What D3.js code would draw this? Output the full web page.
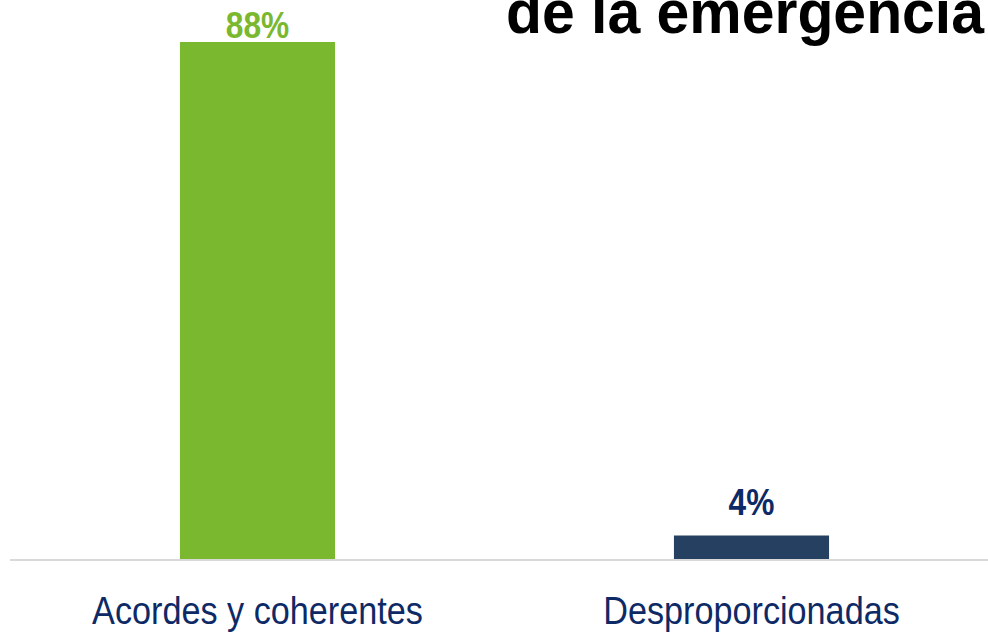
<!DOCTYPE html>
<html>
<head>
<meta charset="utf-8">
<script src="https://cdn.jsdelivr.net/npm/d3@7"></script>
<style>
  body { margin: 0; background: #fff; }
  svg { display: block; }
</style>
</head>
<body>
<div id="chart"></div>
<script>
// Data
const categories = ["Acordes y coherentes", "Desproporcionadas"];
const values = [88, 4];
const barColors = ["#79B82F", "#264062"];
const labelColors = ["#79B82F", "#0E2A66"];
const title = "de la emergencia";

const W = 988, H = 633;
const baseY = 559;

const svg = d3.select("#chart").append("svg")
  .attr("width", W)
  .attr("height", H);

// squeeze a text horizontally to imitate a narrow font
function condense(sel, k) {
  sel.each(function() {
    const w = this.getComputedTextLength();
    d3.select(this)
      .attr("textLength", w * k)
      .attr("lengthAdjust", "spacingAndGlyphs");
  });
}

const x = d3.scaleBand()
  .domain(categories)
  .range([10.5, 998.5])
  .paddingInner(0.686)
  .paddingOuter(0.343);

const y = d3.scaleLinear()
  .domain([0, 88])
  .range([baseY, 42]);

// Bars
svg.selectAll("rect.bar")
  .data(categories)
  .join("rect")
  .attr("class", "bar")
  .attr("x", d => x(d))
  .attr("width", x.bandwidth())
  .attr("y", (d, i) => y(values[i]))
  .attr("height", (d, i) => baseY - y(values[i]))
  .attr("fill", (d, i) => barColors[i]);

// Baseline
svg.append("line")
  .attr("x1", 10).attr("x2", W)
  .attr("y1", baseY + 1).attr("y2", baseY + 1)
  .attr("stroke", "#d9d9d9")
  .attr("stroke-width", 2);

// Value labels
svg.selectAll("text.val")
  .data(categories)
  .join("text")
  .attr("class", "val")
  .attr("x", d => x(d) + x.bandwidth() / 2)
  .attr("y", (d, i) => Math.max(y(values[i]) - 21, 38))
  .attr("text-anchor", "middle")
  .attr("font-family", "'Liberation Sans', Arial, sans-serif")
  .attr("font-weight", "bold")
  .attr("font-size", 36)
  .attr("fill", (d, i) => labelColors[i])
  .text((d, i) => values[i] + "%")
  .call(condense, 0.88);

// Category labels
svg.selectAll("text.cat")
  .data(categories)
  .join("text")
  .attr("class", "cat")
  .attr("x", d => x(d) + x.bandwidth() / 2)
  .attr("y", 624)
  .attr("text-anchor", "middle")
  .attr("font-family", "'Liberation Sans', Arial, sans-serif")
  .attr("font-size", 38)
  .attr("fill", "#0E2A66")
  .text(d => d)
  .call(condense, 0.9);

// Title (cut at top, as in the source slide)
svg.append("text")
  .attr("x", 506)
  .attr("y", 33)
  .attr("font-family", "'Liberation Sans', Arial, sans-serif")
  .attr("font-weight", "bold")
  .attr("font-size", 62)
  .attr("fill", "#000")
  .attr("textLength", 478)
  .attr("lengthAdjust", "spacingAndGlyphs")
  .text(title);
</script>
</body>
</html>
